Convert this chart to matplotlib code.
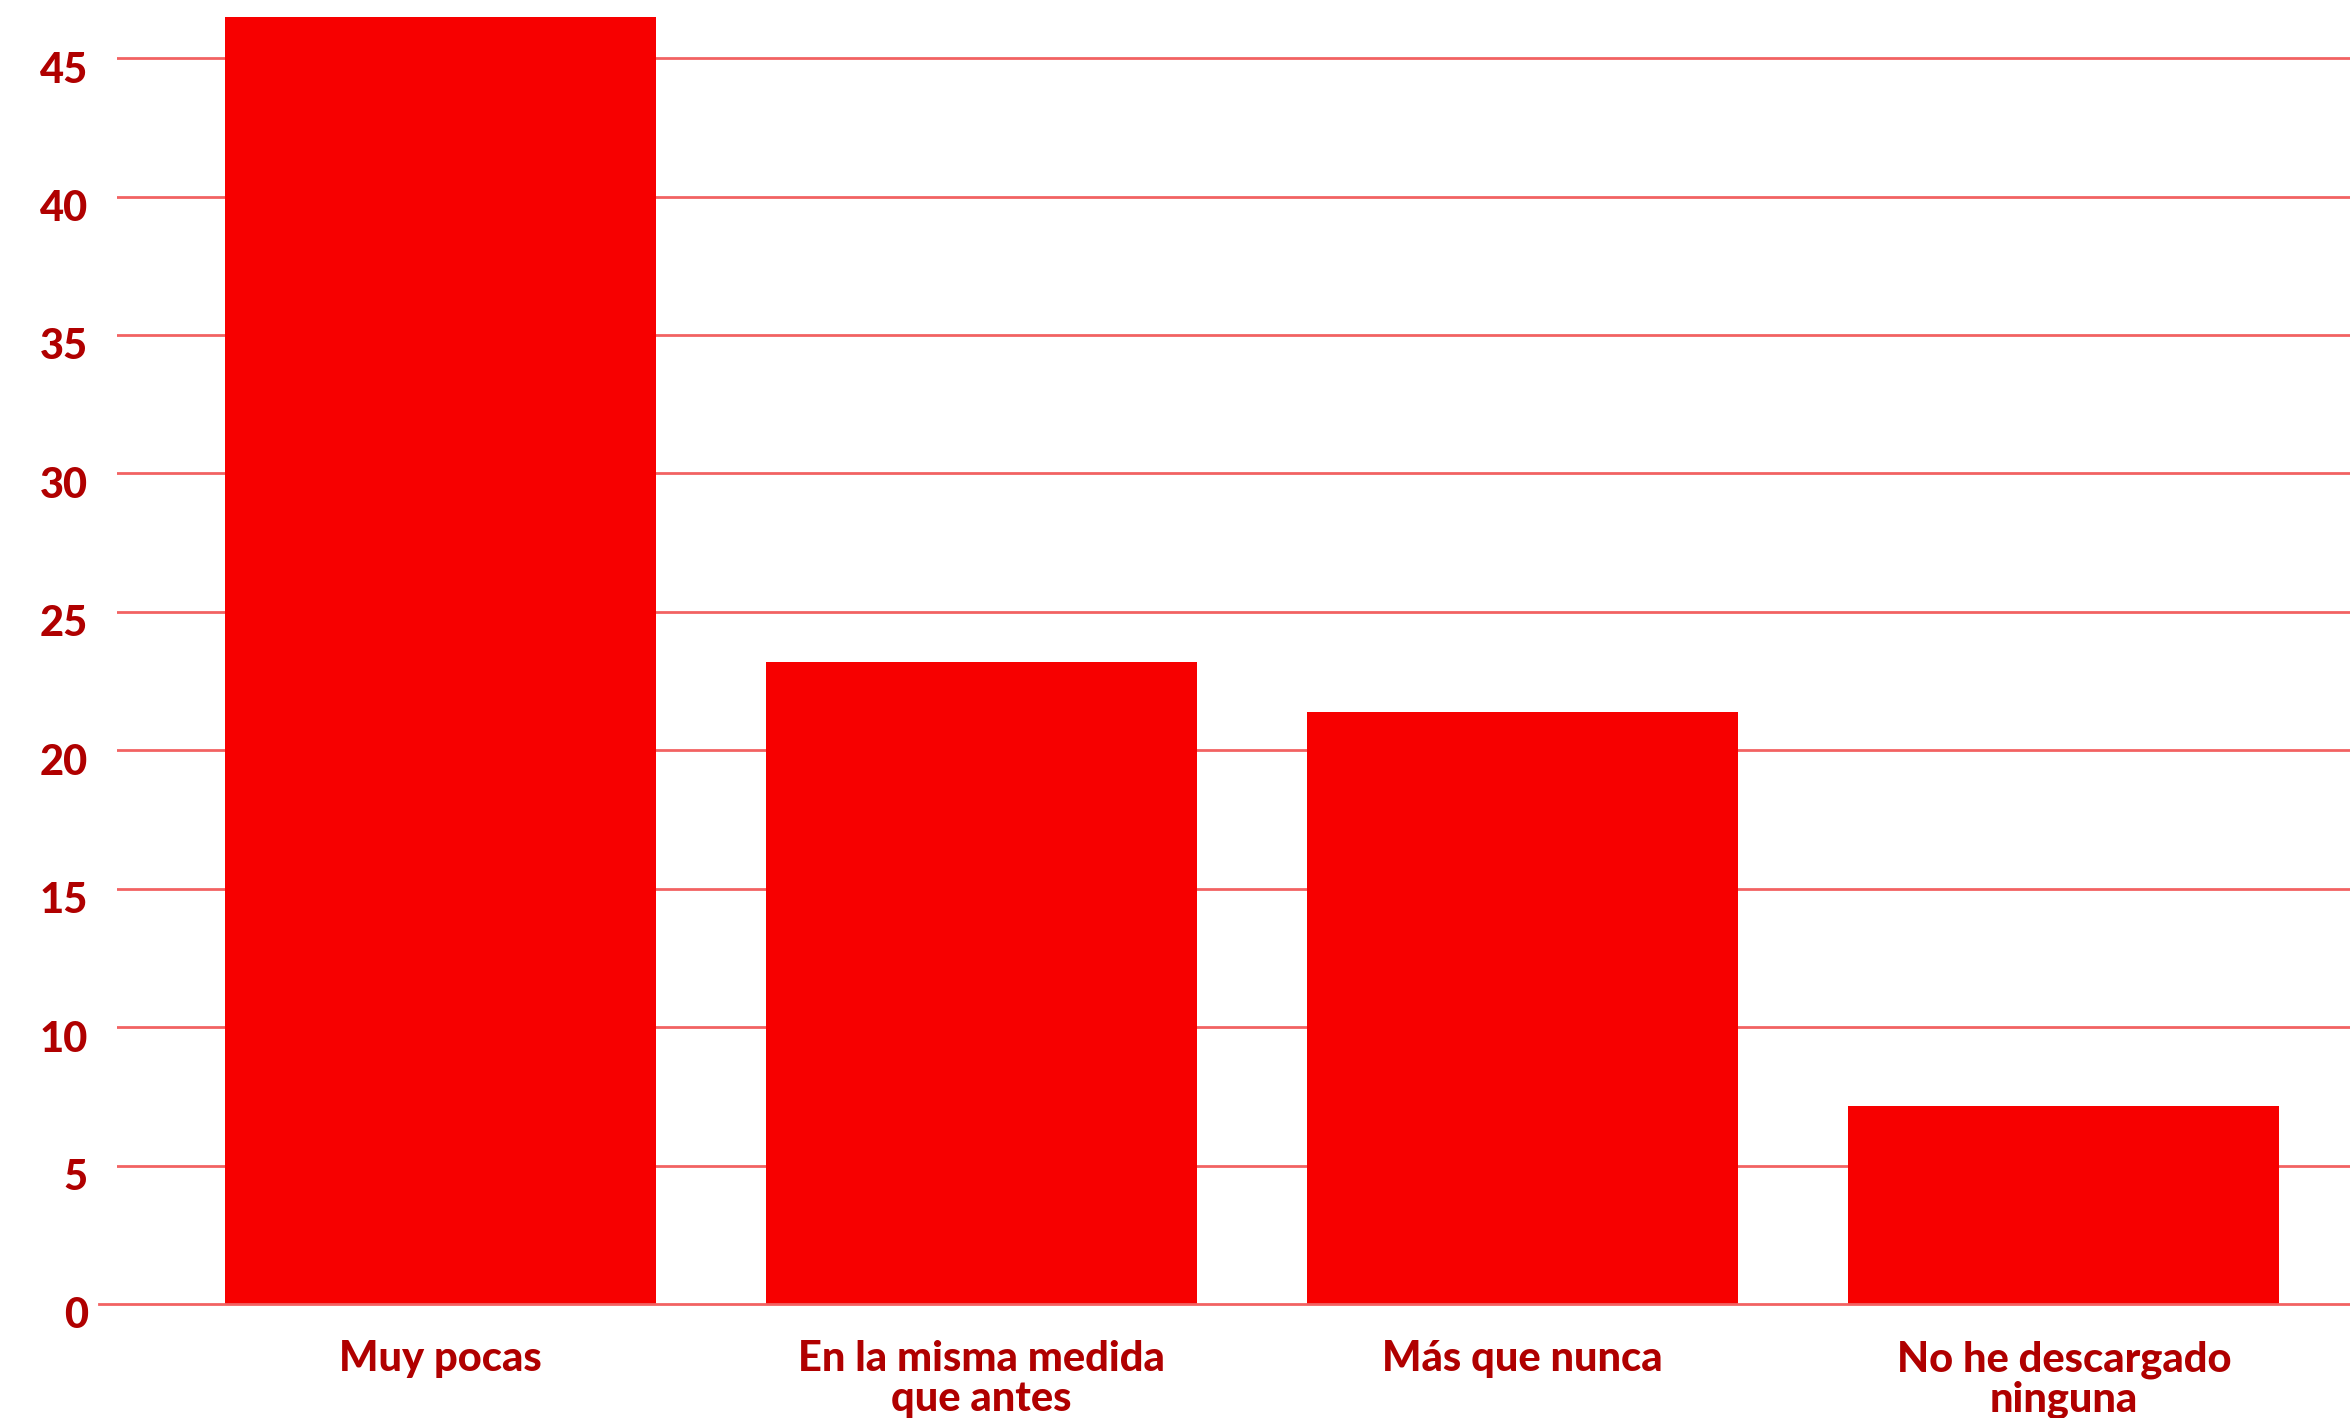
import matplotlib
matplotlib.use('Agg')
import matplotlib.pyplot as plt
import matplotlib.transforms as mtransforms

plt.rcParams['font.family'] = ['Lato', 'DejaVu Sans']

# survey answers and their share (%)
categories = ['Muy pocas', 'En la misma medida\nque antes',
              'Más que nunca', 'No he descargado\nninguna']
values = [46.5, 23.2, 21.4, 7.15]
yticks = [0, 5, 10, 15, 20, 25, 30, 35, 40, 45]

bar_color = '#f70000'
grid_color = '#f26262'
text_color = '#b00000'

fig = plt.figure(figsize=(23.5, 14.18), dpi=100)
ax = fig.add_axes([117 / 2350, 114 / 1418, 1 - 117 / 2350, 1 - 114 / 1418])

xs = range(len(categories))
ax.bar(xs, values, width=0.797, color=bar_color, zorder=3)

# horizontal guide lines
for t in yticks[1:]:
    ax.axhline(t, color=grid_color, lw=2.0, zorder=1)
# baseline reaches a bit further left than the others
ax.plot([-0.008, 1], [0, 0], transform=ax.get_yaxis_transform(),
        color=grid_color, lw=2.0, clip_on=False, zorder=4)

ax.set_xlim(-0.598, 3.529)
ax.set_ylim(0, 47.1)

ax.set_yticks(yticks)
ax.set_yticklabels([str(t) for t in yticks])
ax.set_xticks(list(xs))
ax.set_xticklabels(categories, linespacing=1.05)

ax.tick_params(axis='both', length=0, labelsize=30, labelcolor=text_color)
ax.tick_params(axis='y', pad=21)
ax.tick_params(axis='x', pad=26)
for lab in ax.get_yticklabels() + ax.get_xticklabels():
    lab.set_fontweight('black')

# nudge y labels a little below their lines
offset = mtransforms.ScaledTranslation(0, -9 / 100, fig.dpi_scale_trans)
for lab in ax.get_yticklabels():
    lab.set_transform(lab.get_transform() + offset)

for s in ax.spines.values():
    s.set_visible(False)

fig.savefig('out.png', dpi=100)
